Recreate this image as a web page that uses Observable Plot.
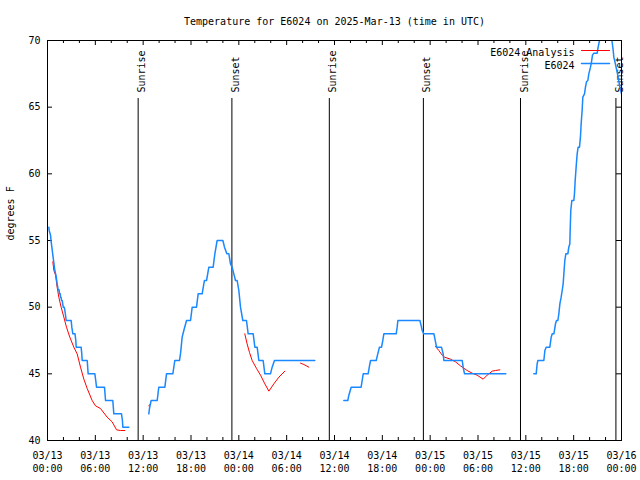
<!DOCTYPE html>
<html>
<head>
<meta charset="utf-8">
<script src="https://cdn.jsdelivr.net/npm/d3@7"></script>
<script src="https://cdn.jsdelivr.net/npm/@observablehq/plot@0.6"></script>
<style>
  body { margin: 0; background: #fff; }
  #chart { width: 640px; height: 480px; }
</style>
</head>
<body>
<div id="chart"></div>
<script>
// ---- chart values (hours since 2025-03-13 00:00 UTC) ----
const START = Date.UTC(2025, 2, 13, 0, 0);
const title = "Temperature for E6024 on 2025-Mar-13 (time in UTC)";
const yLabel = "degrees F";
const seriesNames = ["E6024 Analysis", "E6024"];
const xTickHours = [0, 6, 12, 18, 24, 30, 36, 42, 48, 54, 60, 66, 72];
const xMinorHours = [2, 4, 8, 10, 14, 16, 20, 22, 26, 28, 32, 34, 38, 40, 44, 46, 50, 52, 56, 58, 62, 64, 68, 70];
const yTicks = [40, 45, 50, 55, 60, 65, 70];
const sunriseHours = [11.37, 35.35, 59.33];
const sunsetHours = [23.13, 47.15, 71.3];

// observed E6024 (blue), segments separated by gaps
const obsA = [[0.17,56],[0.21,55.75],[0.38,55.4],[0.46,54.9],[0.59,54.3],[0.67,53.9],[0.8,53.3],[0.92,52.75],[1.09,52.3],[1.21,51.75],[1.34,51.3],[1.45,51.3],[1.51,51],[1.6,51],[1.63,50.75],[1.7,50.75],[1.76,50.5],[1.85,50.5],[1.97,50],[2.1,50],[2.18,49.75],[2.26,49.4],[2.34,49],[2.97,49],[3.05,48.5],[3.18,48],[3.45,48],[3.55,47.5],[3.6,47],[4.22,47],[4.3,46.5],[4.35,46],[4.98,46],[5.1,45],[5.94,45],[6.05,44.5],[6.15,44],[7.15,44],[7.28,43],[8.19,43],[8.32,42],[9.28,42],[9.4,41.5],[9.45,41],[10.2,41]];
const obsB = [[12.71,42],[12.79,42.4],[13.0,43],[13.76,43],[13.96,44],[14.72,44],[14.93,45],[15.72,45],[15.97,46],[16.56,46],[16.68,46.5],[16.77,47],[16.89,47.75],[17.1,48.25],[17.44,49],[17.94,49],[18.15,50],[18.69,50],[18.9,51],[19.4,51],[19.61,51.75],[19.69,52],[19.95,52],[20.24,53],[20.78,53],[20.99,54],[21.28,55],[22.0,55],[22.2,54.5],[22.5,54],[22.75,54],[22.95,53.25],[23.16,53],[23.37,52.5],[23.58,52],[23.79,52],[24.0,51.25],[24.21,50],[24.5,49],[24.96,49],[25.17,48],[25.8,48],[26.01,47],[26.3,47],[26.51,46],[27.05,46],[27.26,45],[27.97,45],[28.18,45.5],[28.47,46],[33.53,46]];
const obsC = [[37.17,43],[37.67,43],[37.8,43.4],[38.09,44],[39.34,44],[39.47,44.5],[39.6,45],[40.22,45],[40.39,45.6],[40.52,46],[41.23,46],[41.43,46.5],[41.64,47],[41.9,47],[42.06,47.5],[42.19,48],[43.74,48],[43.86,48.5],[43.95,49],[46.71,49],[46.91,48.5],[47.0,48.25],[47.2,48],[48.47,48],[48.67,47.4],[48.8,47],[49.42,47],[49.63,46.5],[49.72,46],[52.02,46],[52.14,45.5],[52.31,45],[57.49,45]];
const obsD = [[61.0,45],[61.3,45],[61.42,45.75],[61.51,46],[62.26,46],[62.39,46.75],[62.55,47],[63.01,47],[63.18,47.75],[63.31,48],[63.52,48],[63.72,48.75],[63.85,49],[64.02,49],[64.14,49.5],[64.27,50.25],[64.43,50.75],[64.56,51.25],[64.68,51.75],[64.77,52.5],[64.89,53.5],[65.02,54],[65.27,54],[65.39,54.5],[65.52,54.75],[65.56,55.75],[65.64,57.25],[65.77,58],[66.02,58],[66.1,58.5],[66.19,59.5],[66.31,60.5],[66.44,61.5],[66.56,62],[66.73,62],[66.85,62.75],[66.94,63.75],[67.06,64.75],[67.15,65.75],[67.36,66],[67.48,66.5],[67.61,66.9],[67.78,67],[67.9,67.5],[68.11,68],[68.24,68.4],[68.36,68.9],[68.53,69.05],[68.95,69.05],[69.07,69.5],[69.24,70],[69.4,71],[70.6,71],[70.8,70],[70.96,69.25],[71.04,68.75],[71.25,68.2],[71.5,67.5],[71.8,66.5],[72.0,66]];

// analysis E6024 (red)
const anaA = [[0.67,53.4],[0.8,52.75],[1.01,52.4],[1.21,51.5],[1.42,50.75],[1.71,50],[2.05,49.25],[2.38,48.5],[2.8,47.75],[3.3,47],[3.72,46.5],[4.14,45.5],[4.56,44.6],[4.98,43.9],[5.6,43],[6.02,42.6],[6.65,42.4],[7.48,41.75],[8.11,41.4],[8.66,40.8],[9.16,40.75],[9.7,40.75]];
const anaB = [[12.71,42.6],[12.84,42.7]];
const anaC = [[24.75,48],[25.04,47.25],[25.34,46.6],[25.67,46],[26.22,45.4],[26.72,44.9],[27.26,44.25],[27.77,43.7],[28.39,44.25],[29.02,44.75],[29.77,45.2]];
const anaD = [[31.74,45.8],[32.16,45.7],[32.78,45.5]];
const anaE = [[48.67,47.05],[49.09,46.75],[49.51,46.4],[49.8,46.25],[50.55,46.1],[51.18,45.9],[51.8,45.6],[52.64,45.25],[53.27,45.05],[53.89,44.9],[54.65,44.6],[55.15,44.9],[55.78,45.2],[56.19,45.25],[56.74,45.3]];

// ---- build tables ----
const toDate = h => new Date(START + h * 3600e3);
const rows = (segs) => segs.flatMap((seg, i) => seg.map(([h, t]) => ({time: toDate(h), temp: t, seg: i})));
const obsRows = rows([obsA, obsB, obsC, obsD]);
const anaRows = rows([anaA, anaB, anaC, anaD, anaE]);
const sunEvents = [
  ...sunriseHours.map(h => ({time: toDate(h), label: "Sunrise"})),
  ...sunsetHours.map(h => ({time: toDate(h), label: "Sunset"}))
];
const majorDates = xTickHours.map(toDate);
const minorDates = xMinorHours.map(toDate);

const BLUE = "#1a88ff";
const RED = "#ff0000";
const FONT = "'DejaVu Sans Mono', 'Liberation Mono', monospace";
const FS = 10;
const W = 640, H = 480, ML = 47, MR = 19, MT = 40, MB = 40;
const FW = W - ML - MR, FH = H - MT - MB;
const MAJ = 5, MIN = 3;
const lineShape = {draw(context, l) { context.moveTo(0, 0); context.lineTo(0, -l); }};
const fmtDay = d3.utcFormat("%m/%d"), fmtTime = d3.utcFormat("%H:%M");

const chart = Plot.plot({
  width: W, height: H,
  marginLeft: ML, marginRight: MR, marginTop: MT, marginBottom: MB,
  style: {fontFamily: FONT, fontSize: FS + "px", background: "#fff", color: "#000"},
  x: {type: "utc", domain: [toDate(0), toDate(72)]},
  y: {domain: [40, 70]},
  marks: [
    // axes labels
    Plot.axisX(majorDates, {tickSize: 0, tickPadding: 9, fontSize: FS, lineHeight: 1.3,
      tickFormat: d => fmtDay(d) + "\n" + fmtTime(d), label: null}),
    Plot.axisY(yTicks, {tickSize: 0, tickPadding: 7, fontSize: FS, label: null}),
    // inward ticks (bottom, top, left, right)
    Plot.tickX(majorDates, {x: d => d, insetTop: FH - MAJ, stroke: "#000"}),
    Plot.tickX(majorDates, {x: d => d, insetBottom: FH - MAJ, stroke: "#000"}),
    Plot.tickX(minorDates, {x: d => d, insetTop: FH - MIN, stroke: "#000"}),
    Plot.tickX(minorDates, {x: d => d, insetBottom: FH - MIN, stroke: "#000"}),
    Plot.tickY(yTicks, {y: d => d, insetRight: FW - MAJ, stroke: "#000"}),
    Plot.tickY(yTicks, {y: d => d, insetLeft: FW - MAJ, stroke: "#000"}),
    // sunrise / sunset markers
    Plot.ruleX(sunEvents, {x: "time", insetTop: 58, stroke: "#000"}),
    Plot.text(sunEvents, {x: "time", text: "label", frameAnchor: "top", dy: 52, rotate: -90,
      textAnchor: "start", fontSize: FS, fill: "#000"}),
    // series
    Plot.line(anaRows, {x: "time", y: "temp", z: "seg", stroke: RED, strokeWidth: 1, clip: true}),
    Plot.line(obsRows, {x: "time", y: "temp", z: "seg", stroke: BLUE, strokeWidth: 1.5, clip: true}),
    // frame
    Plot.frame({stroke: "#000"}),
    // legend
    Plot.text([seriesNames[0]], {frameAnchor: "top-right", dx: -47, dy: 8, textAnchor: "end", fontSize: FS, fill: "#000"}),
    Plot.text([seriesNames[1]], {frameAnchor: "top-right", dx: -47, dy: 21, textAnchor: "end", fontSize: FS, fill: "#000"}),
    Plot.vector([0], {frameAnchor: "top-right", dx: -40, dy: 10, length: 28, rotate: 90, anchor: "start", shape: lineShape, stroke: RED, strokeWidth: 1}),
    Plot.vector([0], {frameAnchor: "top-right", dx: -40, dy: 23, length: 28, rotate: 90, anchor: "start", shape: lineShape, stroke: BLUE, strokeWidth: 1.5}),
    // title and y label
    Plot.text([title], {frameAnchor: "top", dy: -23, fontSize: FS, fill: "#000"}),
    Plot.text([yLabel], {frameAnchor: "left", dx: -37, rotate: -90, fontSize: FS, fill: "#000"})
  ]
});
document.getElementById("chart").appendChild(chart);
</script>
</body>
</html>
